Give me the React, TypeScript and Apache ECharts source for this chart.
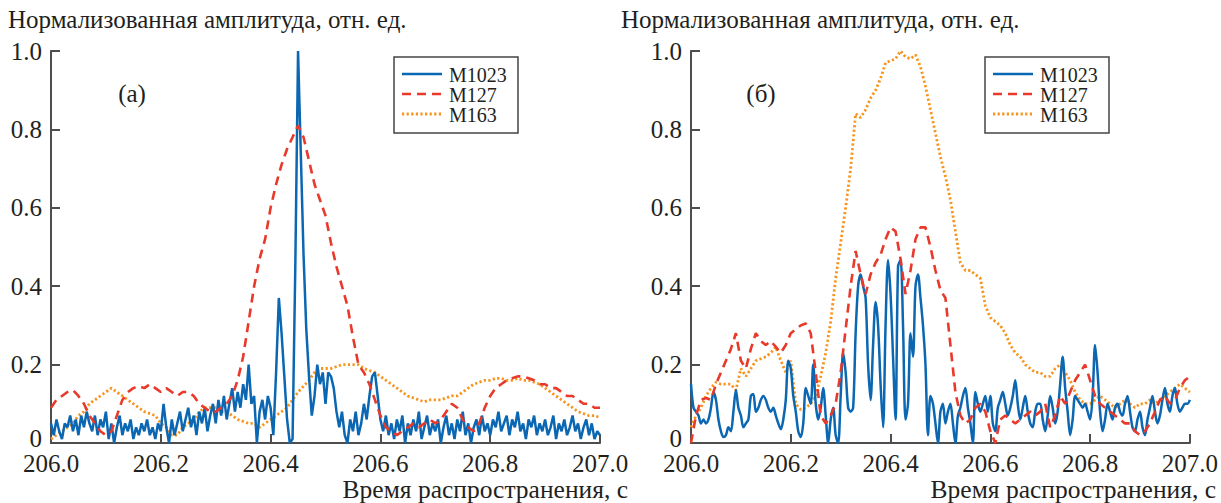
import React, { useEffect, useRef } from "react";
import * as echarts from "echarts";

// ---------- data ----------
const T_START = 206.0;
const STEP_FINE = 0.005; // blue curves
const STEP_COARSE = 0.01; // red / orange curves

const seriesNames = ["M1023", "M127", "M163"];
const xTicks = [206.0, 206.2, 206.4, 206.6, 206.8, 207.0];

// Panel (а)
const a_M1023 = [
  0.05, 0.02, 0.06, 0.03, 0.01, 0.05, 0.04, 0.07, 0.03, 0.06, 0.02, 0.07, 0.04, 0.08, 0.05, 0.03, 0.07, 0.02, 0.06, 0.04,
  0.08, 0.01, 0.05, 0.0, 0.04, 0.07, 0.02, 0.05, 0.03, 0.06, 0.01, 0.04, 0.02, 0.05, 0.03, 0.06, 0.02, 0.04, 0.01, 0.05,
  0.03, 0.1, 0.04, 0.0, 0.06, 0.02, 0.05, 0.08, 0.03, 0.06, 0.09, 0.04, 0.07, 0.02, 0.08, 0.05, 0.09, 0.03, 0.07, 0.1,
  0.05, 0.11, 0.07, 0.12, 0.06, 0.1, 0.14, 0.08, 0.13, 0.09, 0.15, 0.11, 0.2, 0.1, 0.12, 0.0, 0.08, 0.11, 0.06, 0.12,
  0.09, 0.02, 0.18, 0.37, 0.28, 0.17, 0.06, 0.0, 0.01, 0.45, 1.0, 0.74, 0.48, 0.29, 0.17, 0.07, 0.12, 0.2, 0.15, 0.18,
  0.1, 0.18, 0.17, 0.14, 0.08, 0.04, 0.08, 0.02, 0.0, 0.06, 0.03, 0.08, 0.02, 0.05, 0.1, 0.06, 0.12, 0.17, 0.18, 0.12,
  0.06, 0.03, 0.07, 0.02, 0.05, 0.01, 0.06, 0.03, 0.07, 0.0, 0.05, 0.02, 0.06, 0.03, 0.08, 0.01, 0.04, 0.07, 0.02, 0.05,
  0.03, 0.06, 0.0, 0.04, 0.07, 0.02, 0.05, 0.01, 0.06, 0.03, 0.08, 0.02, 0.05, 0.0, 0.04, 0.06, 0.02, 0.07, 0.03, 0.05,
  0.02, 0.06, 0.04, 0.08, 0.03, 0.05, 0.07, 0.02, 0.06, 0.04, 0.08, 0.03, 0.05, 0.01, 0.06, 0.04, 0.07, 0.02, 0.05, 0.03,
  0.06, 0.02, 0.04, 0.07, 0.01, 0.05, 0.03, 0.06, 0.02, 0.04, 0.07, 0.03, 0.05, 0.01, 0.04, 0.06, 0.02, 0.05, 0.01, 0.03, 0.02,
];

const a_M127 = [
  0.09, 0.11, 0.12, 0.13, 0.135, 0.12, 0.1, 0.07, 0.05, 0.03,
  0.02, 0.03, 0.07, 0.11, 0.13, 0.14, 0.145, 0.14, 0.15, 0.14,
  0.13, 0.14, 0.13, 0.12, 0.13, 0.13, 0.12, 0.1, 0.09, 0.08,
  0.08, 0.09, 0.1, 0.12, 0.16, 0.22, 0.31, 0.4, 0.47, 0.52,
  0.6, 0.66, 0.71, 0.75, 0.78, 0.81, 0.78, 0.72, 0.66, 0.62,
  0.58, 0.51, 0.45, 0.4, 0.35, 0.27, 0.2, 0.18, 0.15, 0.11,
  0.07, 0.04, 0.03, 0.02, 0.03, 0.04, 0.05, 0.04, 0.05, 0.06,
  0.05, 0.06, 0.08, 0.1, 0.09, 0.06, 0.04, 0.03, 0.05, 0.09,
  0.12, 0.14, 0.15, 0.16, 0.165, 0.17, 0.17, 0.165, 0.16, 0.15,
  0.15, 0.14, 0.14, 0.13, 0.12, 0.12, 0.11, 0.1, 0.1, 0.09, 0.09,
];

const a_M163 = [
  0.01, 0.02, 0.03, 0.04, 0.05, 0.07, 0.08, 0.1, 0.11, 0.12,
  0.13, 0.14, 0.13, 0.12, 0.11, 0.1, 0.09, 0.08, 0.075, 0.07,
  0.05, 0.04, 0.02, 0.02, 0.04, 0.05, 0.06, 0.08, 0.09, 0.09,
  0.09, 0.08, 0.08, 0.07, 0.06, 0.055, 0.05, 0.05, 0.04, 0.05,
  0.06, 0.07, 0.08, 0.09, 0.11, 0.13, 0.145, 0.16, 0.18, 0.19,
  0.19, 0.19, 0.195, 0.2, 0.2, 0.2, 0.2, 0.19, 0.185, 0.18,
  0.17, 0.16, 0.15, 0.14, 0.13, 0.12, 0.115, 0.11, 0.105, 0.11,
  0.11, 0.11, 0.115, 0.12, 0.12, 0.13, 0.14, 0.15, 0.155, 0.16,
  0.16, 0.165, 0.165, 0.16, 0.16, 0.165, 0.16, 0.16, 0.155, 0.15,
  0.14, 0.13, 0.12, 0.11, 0.1, 0.09, 0.08, 0.075, 0.07, 0.07, 0.065,
];

// Panel (б)
const b_M1023 = [
  0.15, 0.09, 0.08, 0.07, 0.05, 0.06, 0.05, 0.06, 0.09, 0.13, 0.11, 0.06, 0.03, 0.015, 0.02, 0.04, 0.03, 0.08, 0.135, 0.09,
  0.07, 0.04, 0.05, 0.06, 0.12, 0.125, 0.08, 0.09, 0.11, 0.12, 0.11, 0.09, 0.08, 0.09, 0.07, 0.05, 0.035, 0.06, 0.11, 0.21,
  0.19, 0.12, 0.08, 0.03, 0.015, 0.05, 0.14, 0.12, 0.1, 0.2, 0.1, 0.06, 0.09, 0.14, 0.07, 0.0, 0.06, 0.09, 0.02, 0.0,
  0.12, 0.23, 0.18, 0.09, 0.08, 0.09, 0.28, 0.4, 0.43, 0.4, 0.37, 0.2, 0.11, 0.25, 0.36, 0.3, 0.15, 0.04, 0.3, 0.467,
  0.38, 0.22, 0.06, 0.45, 0.467, 0.3, 0.06, 0.1, 0.28, 0.22, 0.4, 0.43, 0.37, 0.3, 0.2, 0.02, 0.12, 0.1, 0.05, 0.0,
  0.08, 0.1, 0.05, 0.08, 0.1, 0.05, 0.0, 0.07, 0.09, 0.12, 0.14, 0.09, 0.05, 0.0, 0.13, 0.1, 0.08, 0.1, 0.12, 0.08,
  0.12, 0.05, 0.03, 0.09, 0.11, 0.13, 0.1, 0.07, 0.09, 0.12, 0.16, 0.1, 0.06, 0.09, 0.12, 0.08, 0.05, 0.04, 0.08, 0.1,
  0.1, 0.06, 0.03, 0.07, 0.12, 0.09, 0.05, 0.08, 0.15, 0.22, 0.14, 0.08, 0.02, 0.06, 0.12, 0.11, 0.1, 0.09, 0.1, 0.08,
  0.06, 0.12, 0.25, 0.18, 0.08, 0.03, 0.06, 0.1, 0.08, 0.06, 0.09, 0.1, 0.08, 0.07, 0.1, 0.12, 0.08, 0.04, 0.03, 0.06,
  0.08, 0.04, 0.02, 0.06, 0.09, 0.12, 0.08, 0.05, 0.07, 0.11, 0.14, 0.1, 0.08, 0.12, 0.14, 0.1, 0.08, 0.09, 0.1, 0.1, 0.11,
];

const b_M127 = [
  0.0, 0.07, 0.11, 0.115, 0.11, 0.15, 0.18, 0.21, 0.24, 0.28,
  0.21, 0.19, 0.24, 0.28, 0.26, 0.25, 0.26, 0.245, 0.23, 0.25,
  0.28, 0.29, 0.3, 0.305, 0.28, 0.18, 0.07, 0.05, 0.07, 0.1,
  0.18, 0.29, 0.4, 0.49, 0.43, 0.38, 0.43, 0.46, 0.48, 0.52,
  0.55, 0.54, 0.47, 0.38, 0.44, 0.52, 0.55, 0.55, 0.5, 0.44,
  0.39, 0.37, 0.25, 0.13, 0.07, 0.05, 0.06, 0.09, 0.1, 0.08,
  0.03, 0.0, 0.06, 0.07, 0.06, 0.05, 0.06, 0.07, 0.08, 0.07,
  0.08, 0.1, 0.04, 0.07, 0.12, 0.1, 0.13, 0.16, 0.18, 0.2,
  0.16, 0.12, 0.1, 0.09, 0.08, 0.07, 0.06, 0.05, 0.05, 0.03,
  0.02, 0.03, 0.05, 0.08, 0.11, 0.12, 0.1, 0.11, 0.14, 0.16, 0.17,
];

const b_M163 = [
  0.04, 0.07, 0.09, 0.12, 0.14, 0.155, 0.15, 0.15, 0.15, 0.135,
  0.19, 0.17, 0.19, 0.21, 0.215, 0.22, 0.23, 0.245, 0.21, 0.18,
  0.21, 0.1, 0.085, 0.09, 0.1, 0.12, 0.17, 0.23, 0.31, 0.42,
  0.51, 0.6, 0.7, 0.84, 0.83, 0.85, 0.88, 0.9, 0.93, 0.97,
  0.975, 0.98, 1.0, 0.985, 0.98, 0.99, 0.96, 0.91, 0.85, 0.79,
  0.73, 0.68, 0.62, 0.54, 0.46, 0.44, 0.44, 0.43, 0.42, 0.35,
  0.32, 0.31, 0.3, 0.28, 0.25, 0.23, 0.22, 0.2, 0.19, 0.18,
  0.18, 0.17, 0.17, 0.19, 0.2, 0.18, 0.16, 0.13, 0.11, 0.1,
  0.1, 0.11, 0.12, 0.11, 0.1, 0.09, 0.1, 0.11, 0.1, 0.09,
  0.1, 0.1, 0.11, 0.1, 0.11, 0.12, 0.13, 0.14, 0.15, 0.14, 0.13,
];

// ---------- styling ----------
const FONT = '"Liberation Serif", "Times New Roman", serif';
const TXT = "#231f20";
const AX = "#4d4d4d";
const BLUE = "#0b67b2";
const RED = "#e8392b";
const ORANGE = "#f7941d";
const TITLE = "Нормализованная амплитуда, отн. ед.";
const XNAME = "Время распространения, с";

const toPairs = (vals: number[], step: number) =>
  vals.map((v, i) => [+(T_START + i * step).toFixed(3), v]);

const styleFor = (name: string) => {
  if (name === "M1023") return { color: BLUE, width: 2.5, type: "solid" as any };
  if (name === "M127") return { color: RED, width: 2.6, type: [9, 6] as any };
  return { color: ORANGE, width: 2.8, type: [2.2, 2.4] as any };
};

const mkSeries = (name: string, vals: number[], step: number, idx: number, smooth: number | boolean) => ({
  type: "line",
  name,
  xAxisIndex: idx,
  yAxisIndex: idx,
  data: toPairs(vals, step),
  symbol: "none",
  showSymbol: false,
  smooth,
  lineStyle: styleFor(name),
  itemStyle: { color: styleFor(name).color },
  z: name === "M1023" ? 3 : name === "M127" ? 4 : 2,
});

export default function App() {
  const ref = useRef<HTMLDivElement>(null);
  useEffect(() => {
    if (!ref.current) return;
    const chart = echarts.init(ref.current, undefined, { renderer: "svg" });
    const xAxisCfg = (i: number) => ({
      type: "value",
      gridIndex: i,
      min: 206,
      max: 207,
      interval: 0.2,
      axisLine: { show: true, onZero: false, lineStyle: { color: AX, width: 2 } },
      axisTick: { show: true, inside: true, length: 9, lineStyle: { color: AX, width: 2 } },
      axisLabel: {
        margin: 11,
        fontSize: 25,
        lineHeight: 18,
        fontFamily: FONT,
        color: TXT,
        formatter: (v: number) => v.toFixed(1),
        customValues: xTicks,
      },
      splitLine: { show: false },
    });
    const yAxisCfg = (i: number) => ({
      type: "value",
      gridIndex: i,
      min: 0,
      max: 1,
      interval: 0.2,
      axisLine: { show: true, onZero: false, lineStyle: { color: AX, width: 2 } },
      axisTick: { show: true, inside: true, length: 9, lineStyle: { color: AX, width: 2 } },
      axisLabel: {
        margin: 9,
        fontSize: 25,
        lineHeight: 18,
        fontFamily: FONT,
        color: TXT,
        formatter: (v: number) => (v === 0 ? "{z|0}" : v.toFixed(1)),
        rich: {
          z: { fontSize: 25, fontFamily: FONT, color: TXT, lineHeight: 18, padding: [0, 0, 10, 0] },
        },
      },
      splitLine: { show: false },
    });
    const textEl = (x: number, y: number, text: string, align: string, size = 25, z = 10) => ({
      type: "text",
      x,
      y,
      z,
      silent: true,
      style: {
        text,
        fill: TXT,
        font: `${size}px ${FONT}`,
        lineHeight: size,
        align,
        verticalAlign: "middle",
      },
    });
    const legendEls = (left: number) => {
      const els: any[] = [
        {
          type: "rect",
          z: 100,
          silent: true,
          shape: { x: left, y: 57, width: 124, height: 76 },
          style: { fill: "#fff", stroke: "#444", lineWidth: 1.5 },
        },
      ];
      seriesNames.forEach((name, k) => {
        const y = 74 + k * 20;
        const st = styleFor(name);
        els.push({
          type: "line",
          z: 101,
          silent: true,
          shape: { x1: left + 8, y1: y, x2: left + 48, y2: y },
          style: {
            stroke: st.color,
            lineWidth: st.width,
            lineDash: Array.isArray(st.type) ? st.type : null,
          },
        });
        els.push(textEl(left + 55, y + 1, name, "left", 20, 101));
      });
      return els;
    };
    chart.setOption({
      animation: false,
      backgroundColor: "#fff",
      grid: [
        { left: 51, right: 621, top: 51, bottom: 60 },
        { left: 691, right: 31, top: 51, bottom: 60 },
      ],
      xAxis: [xAxisCfg(0), xAxisCfg(1)],
      yAxis: [yAxisCfg(0), yAxisCfg(1)],
      series: [
        mkSeries("M163", a_M163, STEP_COARSE, 0, false),
        mkSeries("M1023", a_M1023, STEP_FINE, 0, false),
        mkSeries("M127", a_M127, STEP_COARSE, 0, false),
        mkSeries("M163", b_M163, STEP_COARSE, 1, false),
        mkSeries("M1023", b_M1023, STEP_FINE, 1, 0.3),
        mkSeries("M127", b_M127, STEP_COARSE, 1, false),
      ],
      graphic: [
        textEl(8, 19, TITLE, "left"),
        textEl(621, 19, TITLE, "left"),
        textEl(628, 489.5, XNAME, "right", 25.5),
        textEl(1216, 489.5, XNAME, "right", 25.5),
        textEl(132, 93, "(а)", "center"),
        textEl(761, 93, "(б)", "center"),
        ...legendEls(394),
        ...legendEls(985),
      ],
    });
    return () => chart.dispose();
  }, []);
  return (
    <div
      ref={ref}
      style={{ position: "fixed", left: 0, top: 0, width: 1221, height: 503, background: "#fff" }}
    />
  );
}
